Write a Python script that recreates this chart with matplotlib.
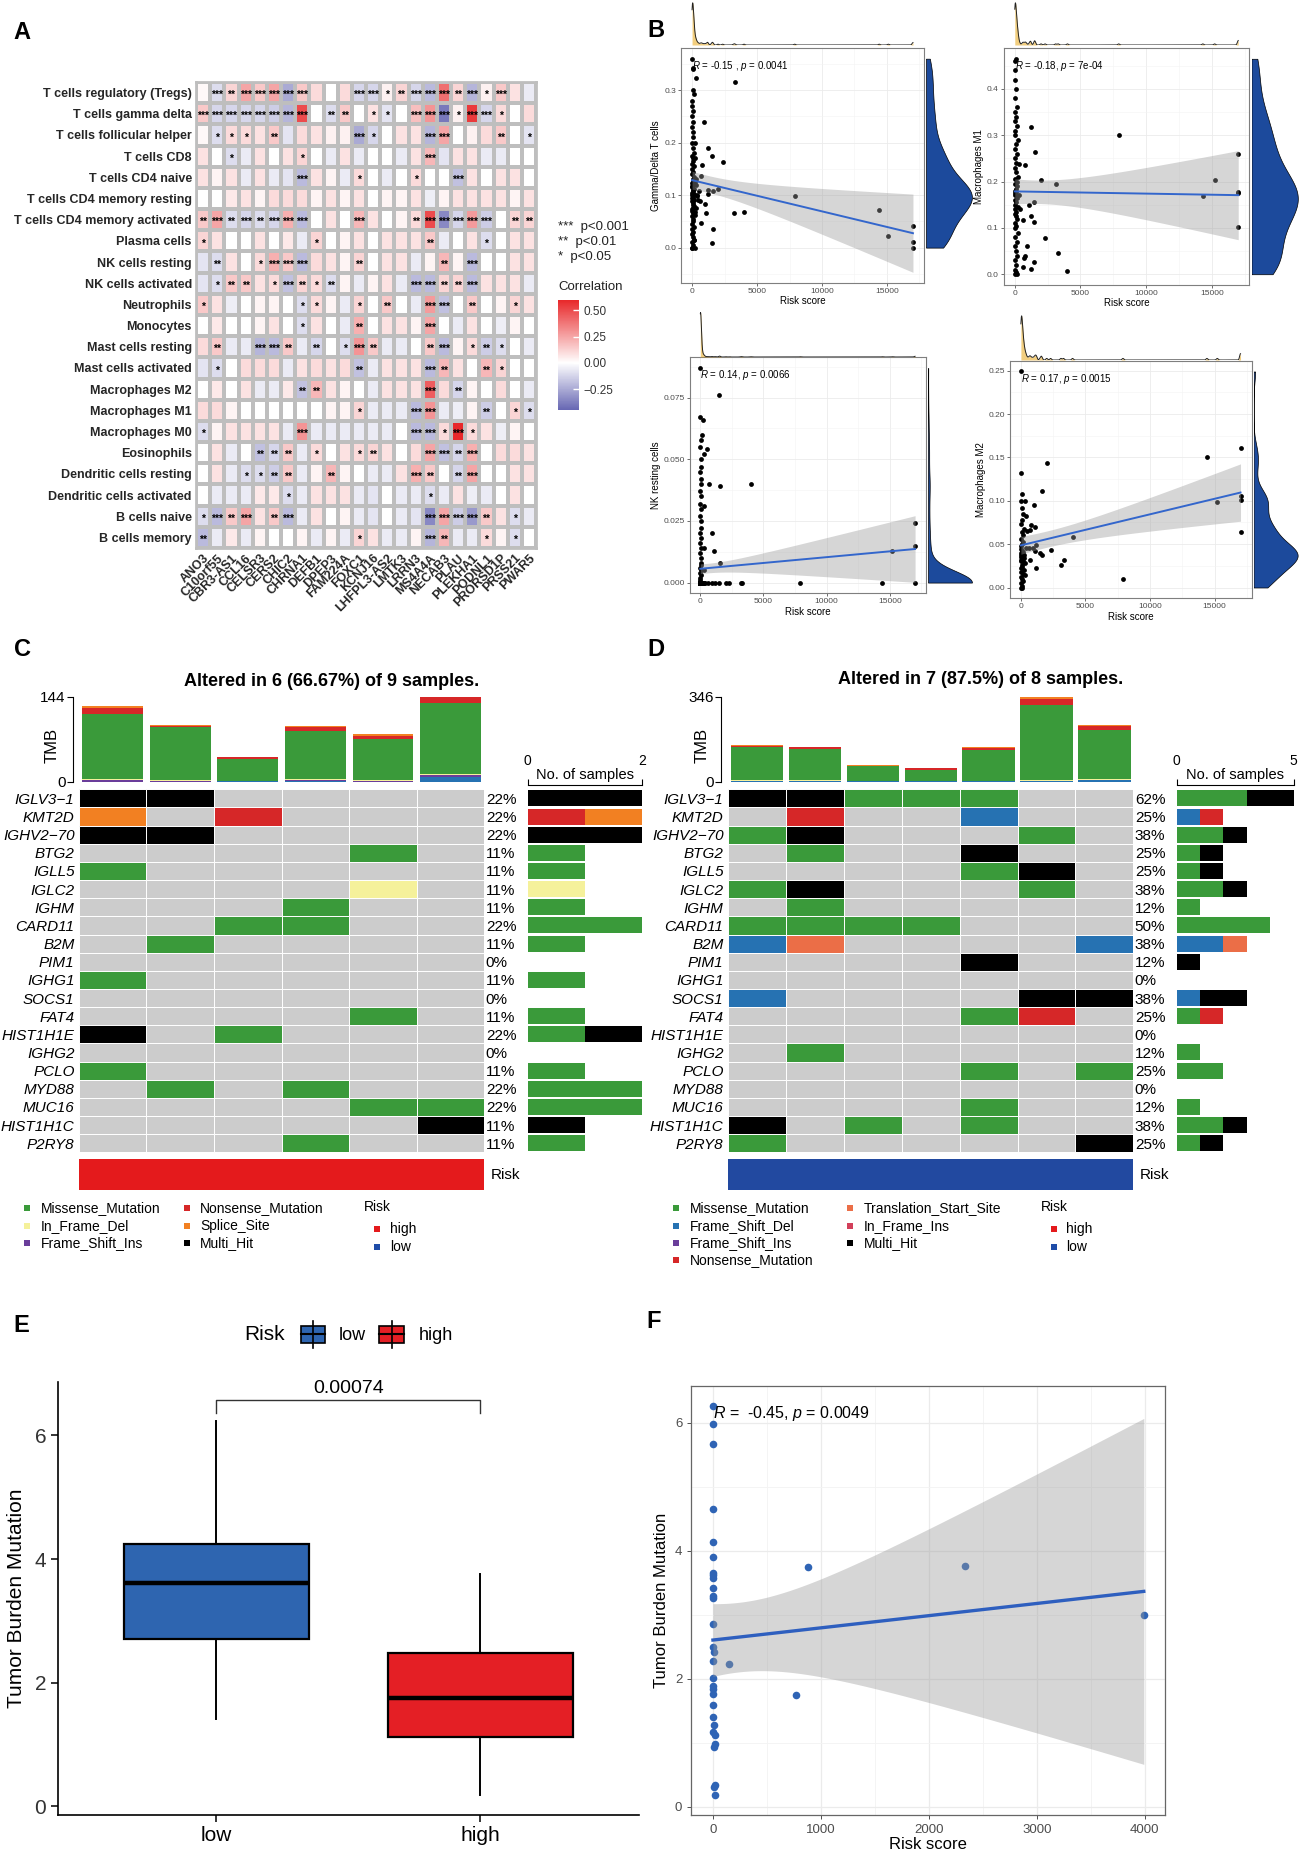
import numpy as np
import matplotlib
matplotlib.use('Agg')
import matplotlib.pyplot as plt
from matplotlib.colors import LinearSegmentedColormap, Normalize
from matplotlib.patches import Rectangle
from matplotlib.ticker import MultipleLocator, FormatStrFormatter

plt.rcParams['font.family'] = ['Liberation Sans', 'DejaVu Sans']
plt.rcParams['mathtext.fontset'] = 'custom'
plt.rcParams['mathtext.rm'] = 'Liberation Sans'
plt.rcParams['mathtext.it'] = 'Liberation Sans:italic'

# ======================= DATA =======================
# ---- Panel A: correlation heatmap ----
cell_types = ['T cells regulatory (Tregs)', 'T cells gamma delta', 'T cells follicular helper',
              'T cells CD8', 'T cells CD4 naive', 'T cells CD4 memory resting',
              'T cells CD4 memory activated', 'Plasma cells', 'NK cells resting',
              'NK cells activated', 'Neutrophils', 'Monocytes', 'Mast cells resting',
              'Mast cells activated', 'Macrophages M2', 'Macrophages M1', 'Macrophages M0',
              'Eosinophils', 'Dendritic cells resting', 'Dendritic cells activated',
              'B cells naive', 'B cells memory']
genes_a = ['ANO3', 'C10orf55', 'CBR3-AS1', 'CCL16', 'CELSR3', 'CERS2', 'CHIC2', 'CHRNA1',
           'DEFB1', 'DPEP3', 'FAM224A', 'FOXC1', 'KCNJ16', 'LHFPL3-AS2', 'LMTK3', 'LRRN3',
           'MS4A4A', 'NECAB3', 'PLAU', 'PLEKHA1', 'PODNL1', 'PRORSD1P', 'PRSS21', 'PWAR5']
corr = [
    [0.02, -0.1, 0.12, 0.25, 0.15, 0.25, -0.25, 0.15, 0.1, 0.0, 0.1, -0.12, -0.12, 0.04, 0.12, -0.12, -0.2, 0.4, 0.12, -0.22, 0.04, 0.15, 0.08, -0.06],
    [0.15, -0.12, -0.12, -0.12, -0.12, -0.15, -0.22, 0.5, 0.0, -0.1, 0.15, 0.0, 0.08, -0.08, 0.0, 0.18, 0.3, -0.4, 0.04, 0.55, -0.12, 0.1, 0.0, 0.1],
    [0.02, -0.1, 0.1, 0.1, 0.08, 0.15, -0.08, 0.1, 0.08, 0.04, 0.04, -0.25, -0.12, 0.0, 0.08, 0.08, -0.22, 0.25, 0.0, 0.04, 0.1, 0.15, 0.0, -0.08],
    [0.08, 0.0, -0.1, -0.06, 0.08, 0.0, 0.08, 0.12, 0.0, -0.06, 0.08, -0.06, 0.0, 0.0, -0.06, 0.08, 0.2, -0.08, 0.08, 0.08, -0.06, -0.06, 0.0, 0.0],
    [0.08, 0.03, 0.08, -0.06, 0.08, -0.06, -0.08, -0.2, 0.08, 0.03, -0.06, 0.1, 0.0, -0.06, 0.0, 0.1, 0.0, 0.0, -0.18, 0.08, 0.0, 0.08, 0.08, 0.0],
    [0.0, 0.0, 0.06, 0.08, 0.03, 0.1, 0.1, 0.1, 0.03, 0.08, 0.03, 0.08, 0.0, 0.03, 0.03, 0.08, -0.05, 0.03, 0.08, 0.08, 0.08, 0.08, 0.03, 0.08],
    [0.15, 0.25, -0.1, -0.12, -0.1, -0.12, 0.22, -0.2, 0.0, 0.08, 0.0, 0.2, 0.08, 0.0, 0.03, 0.1, 0.5, -0.35, -0.12, 0.28, -0.15, 0.0, 0.12, 0.12],
    [0.12, 0.08, 0.0, 0.0, 0.08, 0.0, 0.06, -0.06, 0.12, 0.0, 0.03, 0.08, 0.0, 0.08, 0.08, 0.08, 0.15, -0.06, 0.0, 0.08, -0.1, 0.0, 0.08, 0.08],
    [-0.08, -0.1, 0.08, 0.0, 0.1, 0.22, 0.15, -0.2, 0.1, 0.08, 0.03, 0.12, 0.0, 0.08, 0.08, -0.06, 0.03, 0.2, 0.03, -0.2, 0.0, 0.0, 0.08, 0.08],
    [-0.08, -0.1, 0.15, 0.15, 0.08, 0.1, -0.18, 0.12, 0.1, -0.1, 0.03, -0.06, 0.03, 0.08, -0.06, -0.2, -0.2, 0.12, 0.12, -0.2, 0.08, 0.08, 0.08, -0.06],
    [0.15, 0.08, -0.05, 0.0, 0.03, 0.03, 0.0, -0.1, 0.1, 0.03, -0.06, 0.12, 0.0, 0.15, 0.0, -0.06, 0.28, -0.18, 0.0, 0.15, 0.0, 0.03, 0.12, 0.08],
    [0.0, 0.06, 0.0, 0.0, 0.03, 0.08, 0.0, -0.1, 0.08, 0.0, -0.06, 0.22, 0.0, 0.08, 0.08, 0.03, 0.25, 0.0, -0.06, 0.08, 0.0, -0.05, 0.03, 0.0],
    [0.1, 0.15, -0.06, -0.06, -0.22, -0.2, 0.15, -0.06, -0.12, 0.0, -0.1, 0.3, 0.15, -0.06, -0.06, 0.0, 0.15, -0.2, 0.03, 0.1, -0.15, -0.1, 0.0, -0.06],
    [-0.08, -0.1, 0.0, 0.1, 0.1, 0.1, -0.06, 0.08, 0.1, 0.08, 0.1, -0.18, -0.06, 0.08, 0.08, 0.08, -0.2, 0.2, 0.08, 0.0, 0.2, 0.12, 0.0, 0.0],
    [0.0, 0.06, 0.0, 0.08, -0.06, -0.06, 0.06, -0.18, 0.2, 0.08, 0.03, 0.0, -0.06, 0.08, 0.08, 0.08, 0.45, 0.1, -0.12, 0.03, 0.0, 0.1, 0.0, -0.06],
    [0.1, 0.1, 0.03, 0.0, 0.0, 0.0, 0.0, 0.0, 0.0, 0.03, 0.03, 0.12, -0.06, -0.06, -0.06, -0.2, 0.3, -0.06, -0.05, 0.03, -0.15, 0.0, 0.12, -0.1],
    [-0.1, 0.03, 0.08, 0.08, 0.08, 0.08, -0.06, 0.3, -0.06, -0.06, -0.06, -0.06, -0.06, -0.06, 0.0, -0.2, -0.2, 0.1, 0.6, 0.1, 0.08, -0.05, 0.03, 0.0],
    [0.0, 0.08, -0.06, 0.0, -0.18, -0.12, 0.15, -0.06, 0.1, 0.0, 0.08, 0.1, 0.12, 0.08, 0.0, 0.1, 0.25, -0.18, -0.12, 0.22, 0.0, 0.1, 0.1, 0.08],
    [0.0, 0.08, -0.06, -0.1, -0.1, -0.15, 0.15, -0.06, 0.03, 0.2, 0.03, 0.0, -0.06, -0.06, 0.08, 0.22, 0.15, 0.0, -0.12, 0.25, 0.0, 0.0, 0.08, 0.08],
    [0.0, -0.06, -0.06, -0.06, 0.06, 0.06, -0.1, -0.06, 0.08, 0.08, 0.08, -0.06, -0.08, 0.0, -0.06, -0.06, -0.1, -0.06, 0.08, -0.05, -0.06, 0.0, 0.08, 0.0],
    [-0.1, -0.2, 0.15, 0.25, 0.08, 0.15, -0.2, -0.06, 0.08, 0.0, 0.03, -0.06, -0.08, 0.0, -0.06, -0.08, -0.35, 0.25, -0.15, -0.3, 0.15, 0.08, -0.1, -0.06],
    [-0.2, -0.06, 0.06, -0.06, 0.03, 0.0, 0.0, 0.03, -0.06, 0.03, -0.06, 0.12, 0.08, -0.06, -0.06, 0.03, -0.22, 0.2, -0.06, -0.06, 0.1, 0.03, -0.1, 0.0],
]
stars = [
    [0,3,2,3,3,3,3,3,0,0,0,3,3,1,2,3,3,3,2,3,1,3,0,0],
    [3,3,3,3,3,3,3,3,0,2,2,0,1,1,0,3,3,3,1,3,3,1,0,0],
    [0,1,1,1,0,2,0,0,0,0,0,3,1,0,0,0,3,3,0,0,0,2,0,1],
    [0,0,1,0,0,0,0,1,0,0,0,0,0,0,0,0,3,0,0,0,0,0,0,0],
    [0,0,0,0,0,0,0,3,0,0,0,1,0,0,0,1,0,0,3,0,0,0,0,0],
    [0,0,0,0,0,0,0,0,0,0,0,0,0,0,0,0,0,0,0,0,0,0,0,0],
    [2,3,2,3,2,3,3,3,0,0,0,3,0,0,0,2,3,3,3,3,3,0,2,2],
    [1,0,0,0,0,0,0,0,1,0,0,0,0,0,0,0,2,0,0,0,1,0,0,0],
    [0,2,0,0,1,3,3,3,0,0,0,2,0,0,0,0,0,2,0,3,0,0,0,0],
    [0,1,2,2,0,1,3,2,1,2,0,0,0,0,0,3,3,2,2,3,0,0,0,0],
    [1,0,0,0,0,0,0,1,1,0,0,1,0,2,0,0,3,3,0,2,0,0,1,0],
    [0,0,0,0,0,0,0,1,0,0,0,2,0,0,0,0,3,0,0,0,0,0,0,0],
    [0,2,0,0,3,3,2,0,2,0,1,3,2,0,0,0,2,3,0,1,2,1,0,0],
    [0,1,0,0,0,0,0,0,0,0,0,2,0,0,0,0,3,2,0,0,2,1,0,0],
    [0,0,0,0,0,0,0,2,2,0,0,0,0,0,0,0,3,0,2,0,0,0,0,0],
    [0,0,0,0,0,0,0,0,0,0,0,1,0,0,0,3,3,0,0,0,2,0,1,1],
    [1,0,0,0,0,0,0,3,0,0,0,0,0,0,0,3,3,1,3,1,0,0,0,0],
    [0,0,0,0,2,2,2,0,1,0,0,1,2,0,0,0,3,3,2,3,0,0,0,0],
    [0,0,0,1,1,2,2,0,0,2,0,0,0,0,0,3,2,0,2,3,0,0,0,0],
    [0,0,0,0,0,0,1,0,0,0,0,0,0,0,0,0,1,0,0,0,0,0,0,0],
    [1,3,2,3,0,2,3,0,0,0,0,0,0,0,0,0,3,3,3,3,2,0,1,0],
    [2,0,0,0,0,0,0,0,0,0,0,1,0,0,0,0,3,2,0,0,1,0,1,0],
]
corr_ticks = [-0.25, 0.0, 0.25, 0.5]

# ---- Panel B: Risk score vs immune cell fractions ----
b1_x = [0, 20, 60, 10, 120, 40, 0, 80, 30, 150, 5, 50, 100, 15, 200, 70, 0, 25, 90, 140,
        35, 60, 10, 180, 45, 0, 110, 20, 75, 130, 5, 55, 95, 160, 30, 0, 85, 15, 210, 65,
        40, 120, 10, 50, 0, 150, 25, 100, 70, 5, 130, 35, 0, 60, 90, 20, 45, 10, 80, 30, 0,
        0, 50, 80, 300, 50, 150, 3300, 900, 1200, 1550, 2350, 800, 700, 1200, 1600, 2000,
        1200, 300, 500, 450, 600, 300, 400, 1000, 1100, 3200, 4000, 700, 1600, 1500, 7900,
        14400, 15100, 17000, 17000, 17000, 200, 200, 300, 350, 250, 200, 150]
b1_y = [0.0, 0.0, 0.005, 0.01, 0.015, 0.02, 0.025, 0.03, 0.035, 0.04, 0.045, 0.05, 0.055, 0.06,
        0.062, 0.066, 0.07, 0.073, 0.076, 0.08, 0.082, 0.085, 0.088, 0.09, 0.092, 0.095, 0.097, 0.1,
        0.101, 0.103, 0.105, 0.107, 0.11, 0.112, 0.115, 0.117, 0.12, 0.123, 0.125, 0.128, 0.13,
        0.135, 0.14, 0.145, 0.15, 0.155, 0.16, 0.165, 0.17, 0.175, 0.18,
        0.19, 0.2, 0.21, 0.22, 0.23, 0.24, 0.25, 0.26, 0.27, 0.28,
        0.36, 0.343, 0.34, 0.323, 0.30, 0.293, 0.315, 0.24, 0.19, 0.175, 0.163, 0.158, 0.137, 0.11,
        0.108, 0.112, 0.103, 0.13, 0.108, 0.09, 0.088, 0.075, 0.1, 0.083, 0.066, 0.066, 0.068,
        0.047, 0.036, 0.009, 0.098, 0.071, 0.022, 0.041, 0.011, 0.0, 0.2, 0.17, 0.12, 0.098,
        0.067, 0.0, 0.015]

b2_x = [10, 60, 0, 120, 30, 200, 80, 5, 150, 40, 250, 0, 100, 20, 180, 70, 0, 130, 45, 220,
        15, 90, 0, 160, 55, 300, 25, 110, 0, 75, 190, 35, 140, 5, 260, 65, 0, 120, 40, 170,
        10, 95, 230, 0, 50, 150, 20, 80, 0, 200, 30, 60, 10,
        1200, 1550, 7900, 800, 2000, 3100, 15200, 14300, 17000, 17000, 17000, 17000, 1500, 1100,
        1200, 1500, 600, 2300, 900, 800, 700, 3300, 1500, 1200, 600, 4000, 400, 300, 200, 100, 50, 0]
b2_y = [0.0, 0.005, 0.01, 0.02, 0.03, 0.04, 0.05, 0.06, 0.07, 0.08, 0.09, 0.1, 0.105, 0.11,
        0.12, 0.125, 0.13, 0.135, 0.14, 0.145, 0.15, 0.155, 0.16, 0.165, 0.17, 0.172, 0.175,
        0.178, 0.18, 0.185, 0.19, 0.195, 0.2, 0.205, 0.21, 0.22, 0.23, 0.24, 0.25, 0.26, 0.27,
        0.28, 0.29, 0.3, 0.31, 0.32, 0.33, 0.34, 0.35, 0.36, 0.38, 0.4, 0.42,
        0.318, 0.263, 0.301, 0.235, 0.203, 0.194, 0.203, 0.169, 0.26, 0.177, 0.175, 0.103, 0.155,
        0.149, 0.126, 0.112, 0.118, 0.078, 0.06, 0.04, 0.035, 0.045, 0.027, 0.011, 0.015, 0.006,
        0.14, 0.238, 0.0, 0.465, 0.46, 0.44]

b3_x = [0, 15, 40, 80, 120, 5, 60, 200, 30, 150, 0, 90, 250, 20, 110, 45, 0, 170, 70, 10,
        300, 55, 130, 0, 25, 85, 210, 35, 160, 0, 65, 100, 15, 190, 50, 0, 140, 75, 20, 230,
        0, 10, 0, 25, 5, 0, 40, 0, 15, 0, 60, 0, 5, 30, 0, 0, 20, 0, 80, 0,
        5, 0, 35, 0, 10, 0, 0, 50, 0, 20, 0, 5, 0, 70, 0, 15, 0, 0, 45, 0,
        0, 25, 0, 5, 0, 90, 0, 10, 0, 0, 30, 0, 55, 0, 5, 0, 20, 0, 0, 65,
        0, 0, 15, 0, 40, 0, 5, 0, 0, 100, 0, 10, 0, 35, 0, 0, 5, 0, 75, 0,
        20, 0, 0, 5, 0, 50, 0, 0, 10, 0, 30, 0, 0, 85, 0, 5, 0, 15, 0, 0,
        0, 45, 0, 0, 10, 0, 0, 25, 0, 5, 0, 60, 0, 0, 15, 0, 40, 0, 0, 5,
        0, 0, 30, 0, 5, 0, 70, 0, 0, 20, 0, 0, 10, 0, 55, 0, 0, 5, 0, 0,
        0, 10, 30, 5, 20, 0, 40, 15, 60, 0, 25, 10, 50, 0, 35, 80, 5, 20, 0, 45,
        10, 70, 30, 0, 15, 55, 0, 25, 100, 10, 0,
        1500, 200, 500, 300, 700, 1550, 4000, 300, 900, 1100, 300, 1550, 300, 15200, 17000,
        17000, 17000, 14400, 7900, 3200, 3300, 2300, 2000, 1500, 1200, 900, 600, 400]
b3_y = [0, 0, 0, 0, 0, 0, 0, 0, 0, 0, 0, 0, 0, 0, 0, 0, 0, 0, 0, 0,
        0, 0, 0, 0, 0, 0, 0, 0, 0, 0, 0, 0, 0, 0, 0, 0, 0, 0, 0, 0,
        0, 0, 0, 0, 0, 0, 0, 0, 0, 0, 0, 0, 0, 0, 0, 0, 0, 0, 0, 0,
        0, 0, 0, 0, 0, 0, 0, 0, 0, 0, 0, 0, 0, 0, 0, 0, 0, 0, 0, 0,
        0, 0, 0, 0, 0, 0, 0, 0, 0, 0, 0, 0, 0, 0, 0, 0, 0, 0, 0, 0,
        0, 0, 0, 0, 0, 0, 0, 0, 0, 0, 0, 0, 0, 0, 0, 0, 0, 0, 0, 0,
        0, 0, 0, 0, 0, 0, 0, 0, 0, 0, 0, 0, 0, 0, 0, 0, 0, 0, 0, 0,
        0, 0, 0, 0, 0, 0, 0, 0, 0, 0, 0, 0, 0, 0, 0, 0, 0, 0, 0, 0,
        0, 0, 0, 0, 0, 0, 0, 0, 0, 0, 0, 0, 0, 0, 0, 0, 0, 0, 0, 0,
        0.001, 0.002, 0.003, 0.004, 0.005, 0.006, 0.007, 0.008, 0.01, 0.012, 0.014, 0.016, 0.018,
        0.02, 0.022, 0.025, 0.027, 0.03, 0.032, 0.035, 0.037, 0.04, 0.042, 0.045, 0.047, 0.05,
        0.055, 0.058, 0.06, 0.067, 0.087,
        0.076, 0.066, 0.054, 0.052, 0.04, 0.039, 0.04, 0.031, 0.02, 0.013, 0.014, 0.008, 0.005,
        0.013, 0.024, 0.015, 0, 0, 0, 0, 0, 0, 0, 0, 0, 0, 0, 0]

b4_x = [0, 50, 120, 20, 200, 80, 10, 300, 150, 40, 250, 0, 100, 60, 350, 30, 180, 5, 90, 220,
        45, 130, 0, 270, 70, 15, 160, 110, 35, 400, 0, 85, 190, 25, 140, 55, 230, 10, 95, 170,
        65, 35, 120, 0, 0,
        2000, 1600, 1000, 800, 1100, 700, 1200, 1100, 1500, 1600, 2300, 700, 1200, 3300, 3100,
        4000, 7900, 14400, 15200, 17000, 17000, 17000, 17000, 500, 400, 300, 600, 900]
b4_y = [0.0, 0.0, 0.002, 0.005, 0.008, 0.01, 0.012, 0.014, 0.016, 0.018, 0.02, 0.022, 0.024,
        0.026, 0.028, 0.03, 0.031, 0.032, 0.033, 0.034, 0.035, 0.036, 0.037, 0.038, 0.039, 0.04,
        0.041, 0.042, 0.044, 0.046, 0.048, 0.05, 0.053, 0.056, 0.06, 0.064, 0.068, 0.073, 0.078,
        0.085, 0.092, 0.1, 0.108, 0.132, 0.249,
        0.144, 0.111, 0.095, 0.072, 0.07, 0.066, 0.049, 0.042, 0.04, 0.038, 0.043, 0.032, 0.022,
        0.032, 0.026, 0.058, 0.01, 0.151, 0.098, 0.161, 0.106, 0.101, 0.064, 0.065, 0.083, 0.1,
        0.045, 0.045]
b_ylabels = ['Gamma/Delta T cells', 'Macrophages M1', 'NK resting cells', 'Macrophages M2']
b_stats = [('-0.15 ,', '0.0041'), ('-0.18,', '7e-04'), ('0.14,', '0.0066'), ('0.17,', '0.0015')]

# ---- Panels C/D: oncoplots ----
onco_genes = ['IGLV3\u22121', 'KMT2D', 'IGHV2\u221270', 'BTG2', 'IGLL5', 'IGLC2', 'IGHM', 'CARD11',
              'B2M', 'PIM1', 'IGHG1', 'SOCS1', 'FAT4', 'HIST1H1E', 'IGHG2', 'PCLO', 'MYD88',
              'MUC16', 'HIST1H1C', 'P2RY8']
# MS missense, NS nonsense, SP splice, MH multi-hit, ID in-frame del, FI frame-shift ins,
# FD frame-shift del, TS translation start site, II in-frame ins
c_muts = [
    ['MH', 'MH', '', '', '', ''], ['SP', '', 'NS', '', '', ''], ['MH', 'MH', '', '', '', ''],
    ['', '', '', '', 'MS', ''], ['MS', '', '', '', '', ''], ['', '', '', '', 'ID', ''],
    ['', '', '', 'MS', '', ''], ['', '', 'MS', 'MS', '', ''], ['', 'MS', '', '', '', ''],
    ['', '', '', '', '', ''], ['MS', '', '', '', '', ''], ['', '', '', '', '', ''],
    ['', '', '', '', 'MS', ''], ['MH', '', 'MS', '', '', ''], ['', '', '', '', '', ''],
    ['MS', '', '', '', '', ''], ['', 'MS', '', 'MS', '', ''], ['', '', '', '', 'MS', 'MS'],
    ['', '', '', '', '', 'MH'], ['', '', '', 'MS', '', '']]
d_muts = [
    ['MH', 'MH', 'MS', 'MS', 'MS', '', ''], ['', 'NS', '', '', 'FD', '', ''],
    ['MS', 'MH', '', '', '', 'MS', ''], ['', 'MS', '', '', 'MH', '', ''],
    ['', '', '', '', 'MS', 'MH', ''], ['MS', 'MH', '', '', '', 'MS', ''],
    ['', 'MS', '', '', '', '', ''], ['MS', 'MS', 'MS', 'MS', '', '', ''],
    ['FD', 'TS', '', '', '', '', 'FD'], ['', '', '', '', 'MH', '', ''],
    ['', '', '', '', '', '', ''], ['FD', '', '', '', '', 'MH', 'MH'],
    ['', '', '', '', 'MS', 'NS', ''], ['', '', '', '', '', '', ''],
    ['', 'MS', '', '', '', '', ''], ['', '', '', '', 'MS', '', 'MS'],
    ['', '', '', '', '', '', ''], ['', '', '', '', 'MS', '', ''],
    ['MH', '', 'MS', '', 'MS', '', ''], ['MS', '', '', '', '', '', 'MH']]
c_total_samples = 9
d_total_samples = 8
c_tmb = {'FD': [0, 0, 1.5, 1, 0, 8], 'FI': [3, 1, 0, 2, 1, 3], 'ID': [1, 2, 0, 2, 2, 2],
         'MS': [110, 89, 37.5, 81, 70, 121], 'NS': [11, 2, 3, 6, 4, 10], 'SP': [4, 2, 0, 3, 3, 0]}
d_tmb = {'FD': [4, 3, 1, 1, 2, 3, 6], 'FI': [0, 0, 0, 0, 0, 0, 0], 'ID': [2, 2, 0, 0, 2, 5, 5],
         'MS': [135, 128, 61, 48, 125, 303, 201], 'NS': [6, 7, 3, 5, 8, 27, 15],
         'SP': [3, 0, 4, 0, 3, 7, 5]}
c_tmb_max = 144
d_tmb_max = 346
c_bar_max = 2
d_bar_max = 5

# ---- Panel E: boxplot stats ----
e_groups = ['low', 'high']
e_q1 = [2.71, 1.12]
e_med = [3.62, 1.75]
e_q3 = [4.25, 2.49]
e_whislo = [1.41, 0.19]
e_whishi = [6.24, 3.76]
e_pval = '0.00074'

# ---- Panel F: scatter ----
f_x = [0, 0, 0, 0, 0, 0, 5, 0, 5, 0, 0, 5, 0, 0, 10, 0, 0, 0, 5, 0, 5, 5, 10, 5, 15, 15, 10, 15,
       10, 15, 150, 880, 2330, 770, 3990]
f_y = [6.27, 5.98, 5.67, 4.66, 4.13, 3.9, 3.66, 3.62, 3.58, 3.42, 3.29, 3.26, 2.86, 2.49, 2.42,
       2.27, 2.01, 1.88, 1.84, 1.76, 1.59, 1.4, 1.27, 1.16, 1.12, 0.98, 0.93, 0.34, 0.31, 0.18,
       2.23, 3.74, 3.76, 1.75, 2.99]
f_stat = ('-0.45,', '0.0049')

# ======================= FIGURE =======================
W, H = 1299, 1854
fig = plt.figure(figsize=(W / 100, H / 100), dpi=100)
fig.patch.set_facecolor('white')


def px_axes(x0, y0, x1, y1, **kw):
    return fig.add_axes([x0 / W, 1 - y1 / H, (x1 - x0) / W, (y1 - y0) / H], **kw)


# ---------------- Panel A ----------------
corr_arr = np.array(corr)
vmin, vmax = -0.45, 0.6
wpos = (0 - vmin) / (vmax - vmin)
cmap = LinearSegmentedColormap.from_list('cor', [(0, '#6767B3'), (wpos, '#FFFFFF'), (1, '#E8282A')])
norm = Normalize(vmin=vmin, vmax=vmax)
axA = px_axes(196, 82, 536, 548)
nr, nc = corr_arr.shape
mesh = axA.pcolormesh(np.arange(nc + 1), np.arange(nr + 1), corr_arr, cmap=cmap, norm=norm,
                      edgecolors='#BEBEBE', linewidth=1.6)
axA.set_xlim(0, nc)
axA.set_ylim(nr, 0)
for i in range(nr):
    for j in range(nc):
        if stars[i][j]:
            axA.text(j + 0.5, i + 0.62, '*' * stars[i][j], ha='center', va='center',
                     fontsize=7.5, fontweight='bold', color='black')
axA.set_yticks(np.arange(nr) + 0.5)
axA.set_yticklabels(cell_types, fontsize=9, fontweight='bold', color='#262626')
axA.set_xticks(np.arange(nc) + 0.5)
axA.set_xticklabels(genes_a, fontsize=9, fontweight='bold', color='#262626', rotation=45,
                    ha='right', rotation_mode='anchor')
axA.tick_params(length=0, pad=3)
for s in axA.spines.values():
    s.set_color('#BEBEBE')
    s.set_linewidth(2)

cax = px_axes(558, 300, 578.5, 410)
cb = fig.colorbar(mesh, cax=cax, ticks=corr_ticks)
cb.outline.set_visible(False)
cax.set_yticklabels([f'{t:.2f}'.replace('-', '\u2212') for t in corr_ticks], fontsize=8.5, color='#333333')
cax.tick_params(length=4, direction='in', color='white', width=1)

# ---------------- Panel B ----------------


def t975(df):
    z = 1.959964
    return z + (z ** 3 + z) / (4 * df) + (5 * z ** 5 + 16 * z ** 3 + 3 * z) / (96 * df ** 2)


def lm_band(x, y, xs):
    n = len(x)
    b1, b0 = np.polyfit(x, y, 1)
    yhat = b0 + b1 * xs
    res = y - (b0 + b1 * x)
    s = np.sqrt(np.sum(res ** 2) / (n - 2))
    xm = x.mean()
    sxx = np.sum((x - xm) ** 2)
    se = s * np.sqrt(1 / n + (xs - xm) ** 2 / sxx)
    t = t975(n - 2)
    return yhat, yhat - t * se, yhat + t * se


def nrd0(v):
    sd = np.std(v, ddof=1)
    q75, q25 = np.percentile(v, [75, 25])
    lo = min(sd, (q75 - q25) / 1.34)
    if lo <= 0:
        lo = sd
    return 0.9 * lo * len(v) ** (-0.2)


def kde(v, grid, bw=None):
    if bw is None:
        bw = nrd0(v)
    return np.exp(-0.5 * ((grid[:, None] - v[None, :]) / bw) ** 2).sum(axis=1) / (len(v) * bw * np.sqrt(2 * np.pi))


def scatter_panel(mb, tb, rb, x, y, ylabel, stat, yfmt, ymaj, peak_frac):
    x = np.asarray(x, float)
    y = np.asarray(y, float)
    ax = px_axes(*mb)
    xs = np.linspace(x.min(), x.max(), 200)
    yhat, lo, hi = lm_band(x, y, xs)
    ax.scatter(x, y, s=12, color='black', linewidths=0, zorder=2)
    ax.fill_between(xs, lo, hi, color='#999999', alpha=0.4, linewidth=0, zorder=3)
    ax.plot(xs, yhat, color='#3366CC', lw=1.4, zorder=4)
    xr = x.max() - x.min()
    ax.set_xlim(x.min() - 0.05 * xr, x.max() + 0.05 * xr)
    ylo = min(y.min(), lo.min())
    yhi = max(y.max(), hi.max())
    yr = yhi - ylo
    ax.set_ylim(ylo - 0.05 * yr, yhi + 0.05 * yr)
    ax.xaxis.set_major_locator(MultipleLocator(5000))
    ax.xaxis.set_minor_locator(MultipleLocator(2500))
    ax.yaxis.set_major_locator(MultipleLocator(ymaj))
    ax.yaxis.set_minor_locator(MultipleLocator(ymaj / 2))
    ax.yaxis.set_major_formatter(FormatStrFormatter(yfmt))
    ax.grid(which='major', color='#EBEBEB', lw=0.6)
    ax.grid(which='minor', color='#F3F3F3', lw=0.4)
    ax.set_axisbelow(True)
    ax.tick_params(which='major', labelsize=6, labelcolor='#4D4D4D', color='#333333', length=2, width=0.5, pad=1.5)
    ax.tick_params(which='minor', length=0)
    for s in ax.spines.values():
        s.set_color('#7F7F7F')
        s.set_linewidth(0.8)
    ax.set_xlabel('Risk score', fontsize=7, labelpad=1)
    ax.set_ylabel(ylabel, fontsize=7, labelpad=2)
    ax.text(x.min(), y.max(), r'$\it{R}$ = ' + stat[0] + r' $\it{p}$ = ' + stat[1], fontsize=7,
            ha='left', va='top', zorder=5)
    # top marginal density (risk score) with a narrow kernel
    axT = px_axes(*tb)
    gx = np.linspace(x.min(), x.max(), 3000)
    dx = kde(x, gx, bw=0.004 * xr)
    axT.fill_between(gx, 0, dx, color='#E69F00', alpha=0.5, linewidth=0)
    axT.plot(gx, dx, color='#222222', lw=0.7)
    axT.set_xlim(ax.get_xlim())
    axT.set_ylim(0, dx.max() * 1.02)
    axT.axis('off')
    # right marginal density
    axR = px_axes(*rb)
    gy = np.linspace(y.min(), y.max(), 800)
    dy = kde(y, gy)
    axR.fill_betweenx(gy, 0, dy, facecolor='#1C4A9C', edgecolor='black', linewidth=0.5)
    axR.set_ylim(ax.get_ylim())
    axR.set_xlim(0, dy.max() / peak_frac)
    axR.axis('off')


scatter_panel((681, 48, 924, 283), (681, 2, 924, 45), (926, 48, 980, 283), b1_x, b1_y,
              b_ylabels[0], b_stats[0], '%.1f', 0.1, 0.85)
scatter_panel((1003.6, 48, 1249.4, 285), (1003.6, 2, 1249.4, 45), (1251.5, 48, 1299, 285), b2_x, b2_y,
              b_ylabels[1], b_stats[1], '%.1f', 0.1, 0.975)
scatter_panel((689.6, 357.3, 925.8, 593.3), (689.6, 311.7, 925.8, 357), (928, 357.3, 985, 593.3), b3_x, b3_y,
              b_ylabels[2], b_stats[2], '%.3f', 0.025, 0.77)
scatter_panel((1009.9, 360.7, 1251.5, 598.3), (1009.9, 315, 1251.5, 360), (1253.6, 360.7, 1299, 598.3), b4_x, b4_y,
              b_ylabels[3], b_stats[3], '%.2f', 0.05, 0.97)

# ---------------- Panels C / D ----------------
mut_colors = {'MS': '#3A9A3A', 'NS': '#D62728', 'SP': '#F28022', 'MH': '#000000', 'ID': '#F5F19B',
              'FI': '#6A3D9A', 'FD': '#2672B2', 'TS': '#EB6E47', 'II': '#D2405A'}
stack_order = ['FD', 'MS', 'NS', 'TS', 'SP', 'ID', 'FI', 'II', 'MH']
tmb_order = ['FD', 'FI', 'ID', 'MS', 'NS', 'SP']


def oncoplot(x0, x1, tmb_left, muts, tmb, tmb_max, n_total, risk_col, bx0, bx1, bar_max):
    n = len(muts[0])
    g = len(onco_genes)
    ax = px_axes(x0, 789.3, x1, 1152.3)
    for i, row in enumerate(muts):
        for j, c in enumerate(row):
            ax.bar(j, 1, bottom=i, width=1, color=mut_colors.get(c, '#CCCCCC'), edgecolor='white', linewidth=0.7)
    ax.set_xlim(-0.5, n - 0.5)
    ax.set_ylim(g, 0)
    ax.set_yticks(np.arange(g) + 0.5)
    ax.set_yticklabels(onco_genes, fontsize=11, style='italic')
    ax.set_xticks([])
    ax.tick_params(length=0, pad=3)
    for s in ax.spines.values():
        s.set_visible(False)
    nmut = [sum(1 for c in row if c) for row in muts]
    pct = [f'{round(100 * k / n_total)}%' for k in nmut]
    ax2 = ax.twinx()
    ax2.set_ylim(g, 0)
    ax2.set_yticks(np.arange(g) + 0.5)
    ax2.set_yticklabels(pct, fontsize=11)
    ax2.tick_params(length=0, pad=1)
    for s in ax2.spines.values():
        s.set_visible(False)
    # TMB
    tb = px_axes(tmb_left, 696.7, x1, 781.7)
    bottoms = np.zeros(n)
    for key in tmb_order:
        vals = np.array(tmb[key], float)
        tb.bar(np.arange(n), vals, bottom=bottoms, width=0.9, color=mut_colors[key], linewidth=0)
        bottoms += vals
    tb.set_ylim(0, tmb_max)
    cell_px = (x1 - x0) / n
    tb.set_xlim(-0.5 - (x0 - tmb_left) / cell_px, n - 0.5)
    tb.set_yticks([0, tmb_max])
    tb.set_yticklabels(['0', str(tmb_max)], fontsize=11)
    tb.set_xticks([])
    tb.tick_params(length=4, pad=1)
    for k in ['top', 'right', 'bottom']:
        tb.spines[k].set_visible(False)
    tb.spines['left'].set_linewidth(0.8)
    # right bars
    bb = px_axes(bx0, 789.3, bx1, 1152.3)
    for i, row in enumerate(muts):
        left = 0
        for k in stack_order:
            cnt = sum(1 for c in row if c == k)
            if cnt:
                bb.barh(i + 0.5, cnt, left=left, height=0.88, color=mut_colors[k], linewidth=0)
                left += cnt
    bb.set_xlim(0, bar_max)
    bb.set_ylim(g, 0)
    bb.set_yticks([])
    bb.xaxis.tick_top()
    bb.set_xticks([0, bar_max])
    bb.set_xticklabels(['0', str(bar_max)], fontsize=11)
    bb.tick_params(axis='x', length=4, pad=8, width=0.8)
    for k in ['bottom', 'left', 'right']:
        bb.spines[k].set_visible(False)
    bb.spines['top'].set_position(('outward', 3))
    bb.spines['top'].set_linewidth(0.8)
    bb.patch.set_alpha(0)
    # risk bar
    rb = px_axes(x0, 1159.3, x1, 1190)
    rb.bar(np.arange(n), np.ones(n), width=1, color=risk_col, linewidth=0)
    rb.set_xlim(-0.5, n - 0.5)
    rb.set_ylim(0, 1)
    rb.axis('off')


oncoplot(78.8, 484.4, 72.6, c_muts, c_tmb, c_tmb_max, c_total_samples, '#E41A1C', 527.5, 642, c_bar_max)
oncoplot(727.8, 1133.4, 721, d_muts, d_tmb, d_tmb_max, d_total_samples, '#2249A0', 1176.5, 1293.6, d_bar_max)

# ---------------- Panel E ----------------
axE = px_axes(58, 1381.7, 638.6, 1814.5)
low_col, high_col = '#2E65B0', '#E41F25'
stats = [dict(med=e_med[i], q1=e_q1[i], q3=e_q3[i], whislo=e_whislo[i], whishi=e_whishi[i], fliers=[])
         for i in range(2)]
bp = axE.bxp(stats, positions=[0, 1], widths=0.7, patch_artist=True, showcaps=False, showfliers=False,
             boxprops=dict(linewidth=1.6, edgecolor='black'),
             medianprops=dict(color='black', linewidth=3.2),
             whiskerprops=dict(color='black', linewidth=1.4))
for patch, col in zip(bp['boxes'], [low_col, high_col]):
    patch.set_facecolor(col)
top = max(e_whishi)
axE.plot([0, 0, 1, 1], [top + 0.13, top + 0.33, top + 0.33, top + 0.13], color='#333333', lw=1.0)
axE.text(0.5, top + 0.38, e_pval, ha='center', va='bottom', fontsize=14)
axE.set_xlim(-0.6, 1.6)
axE.set_ylim(-0.13, 6.87)
axE.set_yticks([0, 2, 4, 6])
axE.set_xticks([0, 1])
axE.set_xticklabels(e_groups)
axE.tick_params(labelsize=15, length=5, width=1.1, colors='black')
axE.tick_params(axis='y', labelcolor='#333333')
for k in ['top', 'right']:
    axE.spines[k].set_visible(False)
for k in ['left', 'bottom']:
    axE.spines[k].set_linewidth(1.2)
axE.set_ylabel('Tumor Burden Mutation', fontsize=15, labelpad=6)

# ---------------- Panel F ----------------
axF = px_axes(691.4, 1386.2, 1165.3, 1814.5)
fx = np.asarray(f_x, float)
fy = np.asarray(f_y, float)
fxs = np.linspace(fx.min(), fx.max(), 200)
fyh, flo, fhi = lm_band(fx, fy, fxs)
axF.scatter(fx, fy, s=30, color='#2F64B5', linewidths=0, zorder=2)
axF.fill_between(fxs, flo, fhi, color='#999999', alpha=0.4, linewidth=0, zorder=3)
axF.plot(fxs, fyh, color='#2E5FBF', lw=2.4, zorder=4)
xr = fx.max() - fx.min()
axF.set_xlim(fx.min() - 0.05 * xr, fx.max() + 0.05 * xr)
ylo = min(fy.min(), flo.min())
yhi = max(fy.max(), fhi.max())
axF.set_ylim(ylo - 0.05 * (yhi - ylo), yhi + 0.05 * (yhi - ylo))
axF.xaxis.set_major_locator(MultipleLocator(1000))
axF.xaxis.set_minor_locator(MultipleLocator(500))
axF.yaxis.set_major_locator(MultipleLocator(2))
axF.yaxis.set_minor_locator(MultipleLocator(1))
axF.grid(which='major', color='#EBEBEB', lw=0.9)
axF.grid(which='minor', color='#F3F3F3', lw=0.6)
axF.set_axisbelow(True)
axF.tick_params(which='major', labelsize=9.5, labelcolor='#4D4D4D', color='#333333', length=3, width=0.6)
axF.tick_params(which='minor', length=0)
for s in axF.spines.values():
    s.set_color('#666666')
    s.set_linewidth(0.9)
axF.set_xlabel('Risk score', fontsize=12, labelpad=1)
axF.set_ylabel('Tumor Burden Mutation', fontsize=12, labelpad=4)
axF.text(fx.min(), fy.max() + 0.02, r'$\it{R}$ =  ' + f_stat[0] + r' $\it{p}$ = ' + f_stat[1], fontsize=11.5,
         ha='left', va='top', zorder=5)

# ---------------- Overlay: letters, titles, legends ----------------
ov = fig.add_axes([0, 0, 1, 1], zorder=20)
ov.set_xlim(0, W)
ov.set_ylim(H, 0)
ov.axis('off')
ov.patch.set_alpha(0)
for lab, (lx, ly) in {'A': (22, 32), 'B': (656, 30), 'C': (23, 650), 'D': (656, 650),
                      'E': (21, 1326), 'F': (654, 1322)}.items():
    ov.text(lx, ly, lab, fontsize=17, fontweight='bold', ha='center', va='center')

# A legend
for txt, yy in [('***  p<0.001', 227), ('**  p<0.01', 242), ('*  p<0.05', 257)]:
    ov.text(558, yy, txt, fontsize=9.5, ha='left', va='center', color='#222222')
ov.text(558, 287, 'Correlation', fontsize=9.5, ha='left', va='center', color='#222222')

# C / D titles and labels
ov.text(332, 682, 'Altered in 6 (66.67%) of 9 samples.', fontsize=13, fontweight='bold', ha='center', va='center')
ov.text(981, 680, 'Altered in 7 (87.5%) of 8 samples.', fontsize=13, fontweight='bold', ha='center', va='center')
ov.text(52, 745, 'TMB', fontsize=12, rotation=90, ha='center', va='center')
ov.text(701.7, 745, 'TMB', fontsize=12, rotation=90, ha='center', va='center')
ov.text(585, 775, 'No. of samples', fontsize=10.5, ha='center', va='center')
ov.text(1235, 775, 'No. of samples', fontsize=10.5, ha='center', va='center')
ov.text(490.6, 1175, 'Risk', fontsize=11, ha='left', va='center')
ov.text(1139.6, 1175, 'Risk', fontsize=11, ha='left', va='center')

# C legend
c_leg = [('Missense_Mutation', 'MS', 27, 1208.3), ('In_Frame_Del', 'ID', 27, 1225.7),
         ('Frame_Shift_Ins', 'FI', 27, 1242.7), ('Nonsense_Mutation', 'NS', 186.6, 1208.3),
         ('Splice_Site', 'SP', 186.6, 1225.7), ('Multi_Hit', 'MH', 186.6, 1242.7)]
for txt, code, sx, sy in c_leg:
    ov.scatter([sx], [sy], marker='s', s=20, color=mut_colors[code], linewidths=0)
    ov.text(sx + 13.5, sy, txt, fontsize=10, ha='left', va='center')
ov.text(364, 1206.7, 'Risk', fontsize=10, ha='left', va='center')
ov.scatter([376.6], [1229.3], marker='s', s=20, color='#E41A1C', linewidths=0)
ov.text(389.8, 1229.3, 'high', fontsize=10, ha='left', va='center')
ov.scatter([376.6], [1246.7], marker='s', s=20, color='#1F4CA8', linewidths=0)
ov.text(389.8, 1246.7, 'low', fontsize=10, ha='left', va='center')

# D legend
d_leg = [('Missense_Mutation', 'MS', 676, 1208.3), ('Frame_Shift_Del', 'FD', 676, 1225.7),
         ('Frame_Shift_Ins', 'FI', 676, 1242.7), ('Nonsense_Mutation', 'NS', 676, 1260),
         ('Translation_Start_Site', 'TS', 850, 1208.3), ('In_Frame_Ins', 'II', 850, 1225.7),
         ('Multi_Hit', 'MH', 850, 1242.7)]
for txt, code, sx, sy in d_leg:
    ov.scatter([sx], [sy], marker='s', s=20, color=mut_colors[code], linewidths=0)
    ov.text(sx + 13.5, sy, txt, fontsize=10, ha='left', va='center')
ov.text(1041, 1206.7, 'Risk', fontsize=10, ha='left', va='center')
ov.scatter([1053.6], [1229.3], marker='s', s=20, color='#E41A1C', linewidths=0)
ov.text(1066, 1229.3, 'high', fontsize=10, ha='left', va='center')
ov.scatter([1053.6], [1246.7], marker='s', s=20, color='#1F4CA8', linewidths=0)
ov.text(1066, 1246.7, 'low', fontsize=10, ha='left', va='center')

# E legend
ov.text(244.7, 1335, 'Risk', fontsize=15, ha='left', va='center')
for bx, col, lab, tx in [(300.7, low_col, 'low', 339.2), (379.5, high_col, 'high', 418.8)]:
    ov.plot([bx + 12.4, bx + 12.4], [1320.5, 1347.5], color='black', lw=1.2)
    ov.add_patch(Rectangle((bx, 1326), 24.8, 16.7, facecolor=col, edgecolor='black', lw=1.2))
    ov.plot([bx, bx + 24.8], [1334.3, 1334.3], color='black', lw=1.5)
    ov.text(tx, 1335, lab, fontsize=13, ha='left', va='center')

fig.savefig('out.png', dpi=100, facecolor='white')
